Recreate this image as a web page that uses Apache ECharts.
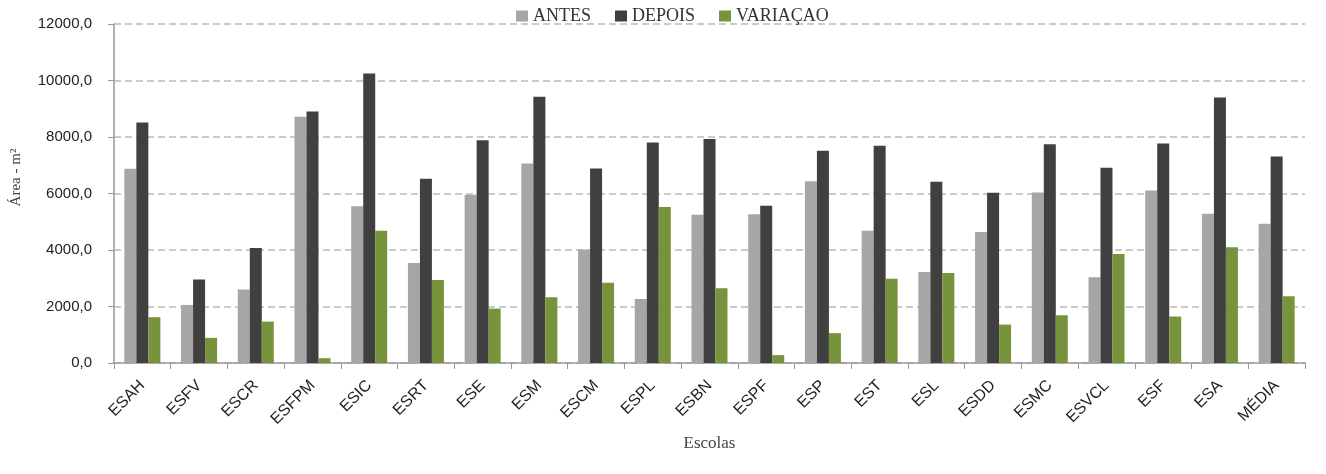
<!DOCTYPE html>
<html>
<head>
<meta charset="utf-8">
<script src="https://cdn.jsdelivr.net/npm/echarts@6/dist/echarts.min.js"></script>
<style>
  html, body { margin: 0; padding: 0; background: #fff; }
  #chart { width: 1326px; height: 474px; }
</style>
</head>
<body>
<div id="chart"></div>
<script>
var escolas = ["ESAH", "ESFV", "ESCR", "ESFPM", "ESIC", "ESRT", "ESE", "ESM", "ESCM", "ESPL",
  "ESBN", "ESPF", "ESP", "EST", "ESL", "ESDD", "ESMC", "ESVCL", "ESF", "ESA", "MÉDIA"];

var antes = [6874, 2055, 2598, 8716, 5551, 3543, 5952, 7062, 4015, 2268,
  5244, 5267, 6436, 4677, 3224, 4641, 6035, 3035, 6106, 5279, 4925];

var depois = [8515, 2953, 4074, 8905, 10251, 6519, 7889, 9424, 6885, 7806,
  7925, 5563, 7511, 7688, 6413, 6023, 7747, 6909, 7771, 9401, 7310];

var variacao = [1620, 890, 1465, 170, 4680, 2940, 1925, 2330, 2840, 5520,
  2650, 280, 1055, 2985, 3185, 1360, 1690, 3860, 1645, 4100, 2360];

var yTicks = { min: 0, max: 12000, interval: 2000 };

var serifFont = "'Liberation Serif', 'DejaVu Serif', serif";
var sansFont = "'Liberation Sans', Arial, sans-serif";

function buildSeries(name, data, color) {
  return {
    name: name,
    type: "bar",
    data: data,
    barWidth: 12,
    barGap: "0%",
    itemStyle: { color: color },
    emphasis: { disabled: true }
  };
}

var myChart = echarts.init(document.getElementById("chart"), null, { renderer: "canvas" });

var options = {
  animation: false,
  legend: {
    top: 2,
    left: 511,
    itemWidth: 12,
    itemHeight: 11,
    itemGap: 24,
    icon: "rect",
    textStyle: {
      fontFamily: serifFont,
      fontSize: 18,
      color: "#333"
    },
    data: ["ANTES", "DEPOIS", "VARIAÇAO"]
  },
  grid: {
    left: 114,
    right: 21,
    top: 24,
    bottom: 111
  },
  xAxis: {
    type: "category",
    data: escolas,
    name: "Escolas",
    nameLocation: "middle",
    nameGap: 70,
    nameTextStyle: {
      fontFamily: serifFont,
      fontSize: 17,
      color: "#444"
    },
    axisLine: { lineStyle: { color: "#999", width: 1.5 } },
    axisTick: { show: true, length: 6, lineStyle: { color: "#999" } },
    axisLabel: {
      rotate: 45,
      margin: 20,
      fontFamily: sansFont,
      fontSize: 16,
      color: "#222"
    }
  },
  yAxis: {
    type: "value",
    min: yTicks.min,
    max: yTicks.max,
    interval: yTicks.interval,
    name: "Área - m²",
    nameLocation: "middle",
    nameGap: 90,
    nameTextStyle: {
      fontFamily: serifFont,
      fontSize: 15,
      color: "#444",
      padding: [0, 0, 0, 32]
    },
    axisLine: { show: true, lineStyle: { color: "#999", width: 1.5 } },
    axisTick: { show: true, length: 6, lineStyle: { color: "#999" } },
    axisLabel: {
      margin: 22,
      fontFamily: sansFont,
      fontSize: 15,
      color: "#222",
      formatter: function(v) {
        return v.toFixed(1).replace(".", ",");
      }
    },
    splitLine: {
      lineStyle: { color: "#bbb", type: [7, 4], width: 1.5 }
    }
  },
  series: [
    buildSeries("ANTES", antes, "#a6a6a6"),
    buildSeries("DEPOIS", depois, "#404040"),
    buildSeries("VARIAÇAO", variacao, "#77933c")
  ]
};

myChart.setOption(options);
</script>
</body>
</html>
